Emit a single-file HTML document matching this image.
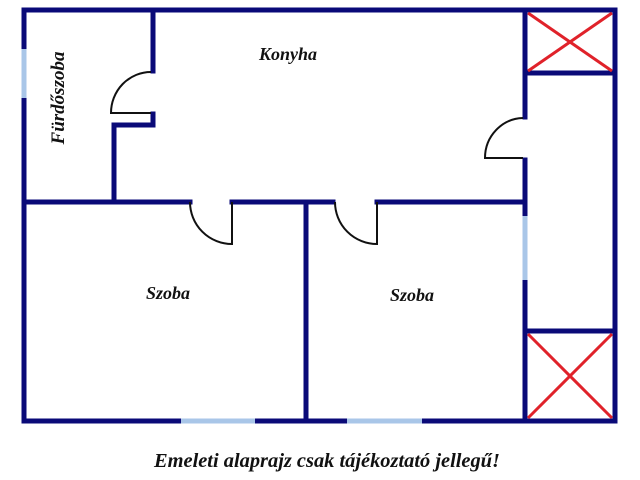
<!DOCTYPE html>
<html><head><meta charset="utf-8"><style>
html,body{margin:0;padding:0;background:#fff;width:640px;height:480px;overflow:hidden}
</style></head><body>
<svg width="640" height="480" viewBox="0 0 640 480" xmlns="http://www.w3.org/2000/svg">
<g stroke="#0a0a78" stroke-width="5" fill="none" stroke-linecap="square">
<line x1="24" y1="10" x2="615" y2="10"/>
<line x1="24" y1="10" x2="24" y2="421"/>
<line x1="615" y1="10" x2="615" y2="421"/>
<line x1="24" y1="421" x2="615" y2="421"/>
<line x1="153" y1="10" x2="153" y2="71"/>
<line x1="153" y1="114" x2="153" y2="124"/>
<line x1="114" y1="125" x2="153" y2="125"/>
<line x1="114" y1="125" x2="114" y2="202"/>
<line x1="24" y1="202" x2="190" y2="202"/>
<line x1="232" y1="202" x2="333" y2="202"/>
<line x1="377" y1="202" x2="524" y2="202"/>
<line x1="306" y1="202" x2="306" y2="421"/>
<line x1="525" y1="10" x2="525" y2="117"/>
<line x1="525" y1="160" x2="525" y2="214"/>
<line x1="525" y1="282" x2="525" y2="421"/>
<line x1="525" y1="73" x2="615" y2="73"/>
<line x1="525" y1="331" x2="615" y2="331"/>
</g>
<g stroke="#a9c6e8" stroke-width="5">
<line x1="24" y1="49" x2="24" y2="98"/>
<line x1="525" y1="216" x2="525" y2="280"/>
<line x1="181" y1="421" x2="255" y2="421"/>
<line x1="347" y1="421" x2="422" y2="421"/>
</g>
<g stroke="#111" stroke-width="2" fill="none">
<path d="M151 72 A40 41 0 0 0 111 113 L151 113"/>
<path d="M190 202 A42 42 0 0 0 232 244 L232 202"/>
<path d="M335 202 A42 42 0 0 0 377 244 L377 202"/>
<path d="M523 118 A39 40 0 0 0 485 158 L523 158"/>
</g>
<g stroke="#e0222a" stroke-width="3">
<line x1="528" y1="13" x2="612" y2="71"/><line x1="612" y1="13" x2="528" y2="71"/>
<line x1="528" y1="334" x2="612" y2="418"/><line x1="612" y1="334" x2="528" y2="418"/>
</g>
<g font-family="Liberation Serif, serif" font-style="italic" font-weight="bold" fill="#111" text-anchor="middle">
<text x="288" y="60" font-size="18">Konyha</text>
<text x="168" y="299" font-size="18">Szoba</text>
<text x="412" y="301" font-size="18">Szoba</text>
<text transform="translate(64,98) rotate(-90)" font-size="19">Fürdőszoba</text>
<text x="327" y="467" font-size="20" textLength="346" lengthAdjust="spacingAndGlyphs">Emeleti alaprajz csak tájékoztató jellegű!</text>
</g>
</svg>
</body></html>
